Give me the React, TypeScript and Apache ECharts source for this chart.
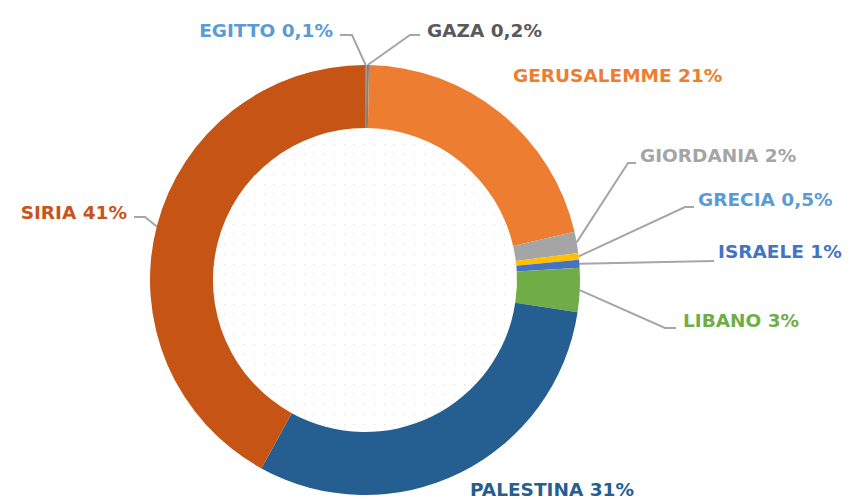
import React, { useEffect, useRef } from "react";
import * as echarts from "echarts";

const categories = ["EGITTO", "GAZA", "GERUSALEMME", "GIORDANIA", "GRECIA", "ISRAELE", "LIBANO", "PALESTINA", "SIRIA"];
// shares as measured from the slice angles (percent of the whole)
const values = [0.1, 0.2, 21.1, 1.6, 0.5, 0.6, 3.3, 30.6, 42];
// percentages as printed in the labels
const pctLabels = ["0,1%", "0,2%", "21%", "2%", "0,5%", "1%", "3%", "31%", "41%"];
const sliceColors = ["#5B9BD5", "#7F7F7F", "#ED7D31", "#A5A5A5", "#FFC000", "#4472C4", "#70AD47", "#255E91", "#C65415"];
const labelColors = ["#5B9BD5", "#595959", "#ED7D31", "#A5A5A5", "#5B9BD5", "#4472C4", "#70AD47", "#255E91", "#C9541A"];

// label placement: [x, y, align, bendX, bendY, endX] (null => no line)
const labelPlaces: Array<[number, number, string, number | null, number | null, number | null]> = [
  [333, 30, "right", 352, 35, 340],
  [427, 30, "left", 410, 35, 420],
  [513, 75, "left", null, null, null],
  [640, 155, "left", 628, 163, 636],
  [698, 199, "left", 685, 207, 694],
  [718, 251, "left", 714, 261, 714],
  [683, 320, "left", 665, 328, 676],
  [470, 489, "left", null, null, null],
  [127, 212, "right", 145, 217, 134],
];

function makeDots(): HTMLCanvasElement {
  const c = document.createElement("canvas");
  c.width = 10;
  c.height = 10;
  const ctx = c.getContext("2d")!;
  ctx.fillStyle = "#ffffff";
  ctx.fillRect(0, 0, 10, 10);
  ctx.fillStyle = "#d6d6d6";
  ctx.fillRect(4, 4, 1, 1);
  return c;
}

export default function App() {
  const ref = useRef<HTMLDivElement>(null);
  useEffect(() => {
    if (!ref.current) return;
    const chart = echarts.init(ref.current, null, { renderer: "svg" });
    const cx = 365;
    const cy = 280;
    chart.setOption({
      animation: false,
      backgroundColor: "#ffffff",
      graphic: [
        {
          type: "circle",
          shape: { cx, cy, r: 152 },
          style: { fill: { image: makeDots(), repeat: "repeat" } as any },
          z: -1,
          silent: true,
        },
      ],
      series: [
        {
          type: "pie",
          center: [cx, cy],
          radius: [152, 215],
          startAngle: 90,
          clockwise: true,
          avoidLabelOverlap: false,
          minAngle: 0,
          itemStyle: { borderWidth: 0 },
          label: {
            show: true,
            position: "outside",
            fontFamily: "DejaVu Sans",
            fontWeight: "bold",
            fontSize: 18.5,
            formatter: (p: any) => `${p.name} ${pctLabels[p.dataIndex]}`,
          },
          labelLine: {
            show: true,
            lineStyle: { color: "#A6A6A6", width: 2 },
          },
          labelLayout: (params: any) => {
            const pl = labelPlaces[params.dataIndex];
            const res: any = {
              x: pl[0],
              y: pl[1],
              align: pl[2],
              verticalAlign: "middle",
            };
            if (pl[3] != null && params.labelLinePoints) {
              const start = params.labelLinePoints[0];
              res.labelLinePoints = [start, [pl[3], pl[4]], [pl[5], pl[4]]];
            }
            return res;
          },
          data: categories.map((name, i) => ({
            name,
            value: values[i],
            itemStyle: { color: sliceColors[i] },
            label: { color: labelColors[i] },
            labelLine: { show: labelPlaces[i][3] != null },
          })),
        },
      ],
    });
    return () => chart.dispose();
  }, []);
  return <div ref={ref} style={{ position: "absolute", left: 0, top: 0, width: 856, height: 499 }} />;
}
